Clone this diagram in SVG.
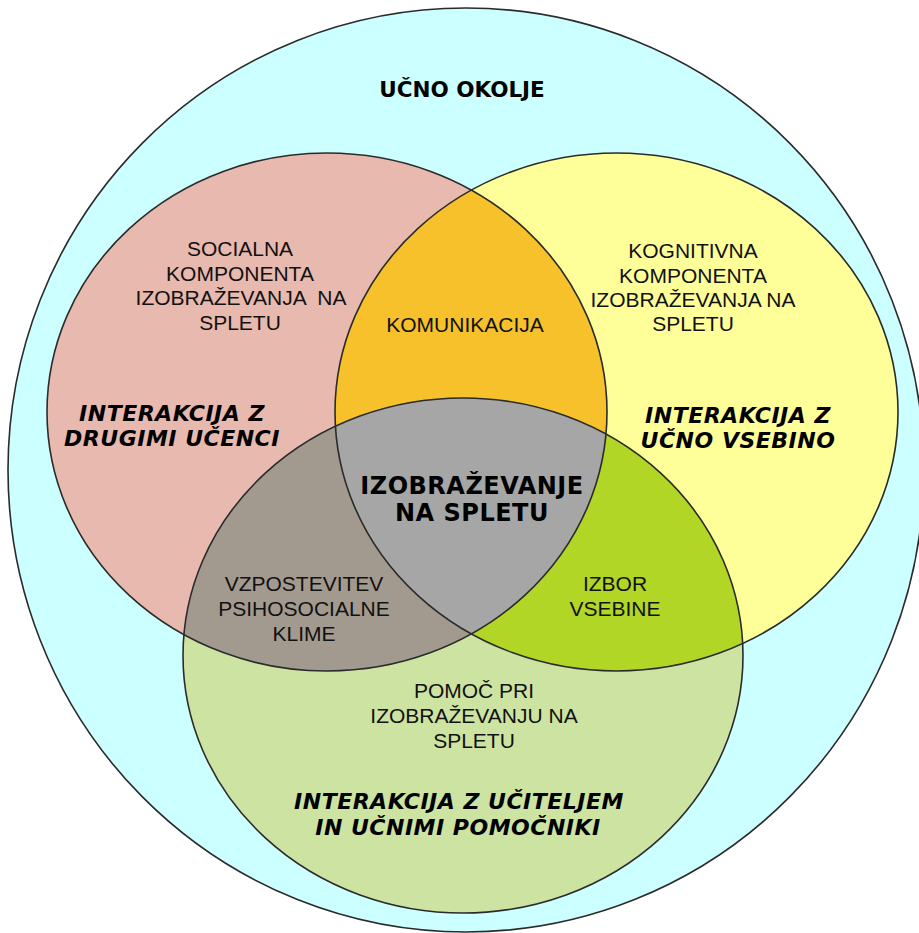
<svg xmlns="http://www.w3.org/2000/svg" xmlns:xlink="http://www.w3.org/1999/xlink" width="919" height="933" viewBox="0 0 919 933">
<style>
.edge{fill:none;stroke:#2b2b2b;stroke-width:1.6}
.t{font-family:"Liberation Sans",Arial,sans-serif;font-size:21px;fill:#111;text-anchor:middle}
.bi{font-family:"DejaVu Sans",Verdana,sans-serif;font-size:22px;font-weight:bold;font-style:italic;letter-spacing:0.5px;fill:#000;text-anchor:middle}
.b{font-family:"DejaVu Sans",Verdana,sans-serif;font-weight:bold;fill:#000;text-anchor:middle}
</style>
<defs>
<ellipse id="eP" cx="327" cy="412" rx="280" ry="259"/>
<ellipse id="eY" cx="616.5" cy="412" rx="281.5" ry="259"/>
<ellipse id="eG" cx="463" cy="655.5" rx="280" ry="257.5"/>
<clipPath id="cP"><use xlink:href="#eP"/></clipPath>
<clipPath id="cY"><use xlink:href="#eY"/></clipPath>
</defs>
<rect width="919" height="933" fill="#fff"/>
<g id="environment">
<ellipse cx="466" cy="470" rx="458" ry="462" fill="#CCFFFF" stroke="#2b2b2b" stroke-width="1.6"/>
<text class="b" x="462" y="97" font-size="21.5">UČNO OKOLJE</text>
</g>
<g id="social"><use xlink:href="#eP" fill="#E8B9AE"/></g>
<g id="cognitive"><use xlink:href="#eY" fill="#FFFF99"/></g>
<g id="support"><use xlink:href="#eG" fill="#CDE3A1"/></g>
<g id="communication"><use xlink:href="#eY" clip-path="url(#cP)" fill="#F6C12A"/></g>
<g id="climate"><use xlink:href="#eG" clip-path="url(#cP)" fill="#A39A8F"/></g>
<g id="content-choice"><use xlink:href="#eG" clip-path="url(#cY)" fill="#B1D625"/></g>
<g id="core"><g clip-path="url(#cP)"><use xlink:href="#eG" clip-path="url(#cY)" fill="#A6A6A6"/></g></g>
<g id="outlines">
<use xlink:href="#eP" class="edge"/>
<use xlink:href="#eY" class="edge"/>
<use xlink:href="#eG" class="edge"/>
</g>
<g id="labels">
<text class="t" x="240" y="256">SOCIALNA</text>
<text class="t" x="240" y="280.5">KOMPONENTA</text>
<text class="t" x="241" y="305" xml:space="preserve">IZOBRAŽEVANJA  NA</text>
<text class="t" x="240" y="330">SPLETU</text>
<text class="t" x="693" y="258">KOGNITIVNA</text>
<text class="t" x="693" y="283">KOMPONENTA</text>
<text class="t" x="693" y="307">IZOBRAŽEVANJA NA</text>
<text class="t" x="693" y="331">SPLETU</text>
<text class="t" x="465" y="332">KOMUNIKACIJA</text>
<text class="bi" x="172" y="421">INTERAKCIJA Z</text>
<text class="bi" x="172" y="446">DRUGIMI UČENCI</text>
<text class="bi" x="738" y="423">INTERAKCIJA Z</text>
<text class="bi" x="738" y="448">UČNO VSEBINO</text>
<text class="b" x="472" y="494" font-size="24" letter-spacing="0.5">IZOBRAŽEVANJE</text>
<text class="b" x="472" y="521" font-size="24" letter-spacing="0.5">NA SPLETU</text>
<text class="t" x="304" y="591">VZPOSTEVITEV</text>
<text class="t" x="304" y="616">PSIHOSOCIALNE</text>
<text class="t" x="304" y="641">KLIME</text>
<text class="t" x="615" y="591">IZBOR</text>
<text class="t" x="615" y="616">VSEBINE</text>
<text class="t" x="474" y="698">POMOČ PRI</text>
<text class="t" x="474" y="723">IZOBRAŽEVANJU NA</text>
<text class="t" x="474" y="748">SPLETU</text>
<text class="bi" x="459" y="809">INTERAKCIJA Z UČITELJEM</text>
<text class="bi" x="458" y="835">IN UČNIMI POMOČNIKI</text>
</g>
</svg>
